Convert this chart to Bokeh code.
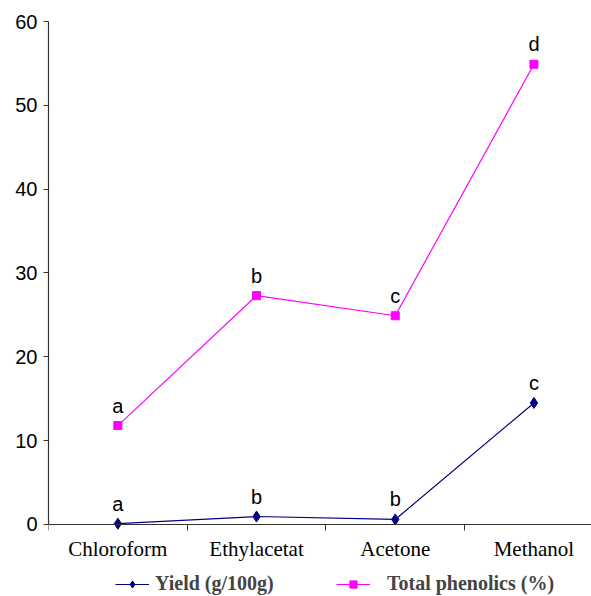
from bokeh.plotting import figure
from bokeh.models import Range1d, FixedTicker, Legend, LegendItem, ColumnDataSource, LabelSet
from bokeh.core.properties import value
from bokeh.embed import file_html
from bokeh.resources import INLINE

solvents = ["Chloroform", "Ethylacetat", "Acetone", "Methanol"]
yield_vals = [0.1, 0.95, 0.6, 14.5]
phenolic_vals = [11.8, 27.3, 24.9, 54.9]
yield_letters = ["a", "b", "b", "c"]
phenolic_letters = ["a", "b", "c", "d"]
y_ticks = [0, 10, 20, 30, 40, 50, 60]

idx = list(range(len(solvents)))
boundaries = [i - 0.5 for i in range(len(solvents) + 1)]

# frame spans down to the bottom of the figure; the x axis is pinned at y = 0
p = figure(width=591, height=596, output_backend="svg", toolbar_location=None,
           x_range=Range1d(-0.5, 3.415), y_range=Range1d(-8.59, 60),
           min_border_left=48, min_border_right=0, min_border_top=21, min_border_bottom=0)
p.outline_line_color = None
p.background_fill_color = "white"

src_y = ColumnDataSource(dict(x=idx, y=yield_vals, t=yield_letters))
src_p = ColumnDataSource(dict(x=idx, y=phenolic_vals, t=phenolic_letters))

l1 = p.line("x", "y", source=src_y, line_color="#000080", line_width=1.2)
m1 = p.scatter("x", "y", source=src_y, marker="diamond", size=11, fill_color="#000080", line_color="#000080")
l2 = p.line("x", "y", source=src_p, line_color="#FF00FF", line_width=1.2)
m2 = p.scatter("x", "y", source=src_p, marker="square", size=8, fill_color="#FF00FF", line_color="#FF00FF")

for src in (src_y, src_p):
    p.add_layout(LabelSet(x="x", y="y", text="t", source=src, text_align="center",
                          text_baseline="alphabetic", y_offset=13,
                          text_font=value("Liberation Sans"), text_font_size=value("20px"),
                          text_color="black"))

# x axis
p.xaxis.fixed_location = 0
p.xaxis.ticker = FixedTicker(ticks=idx, minor_ticks=boundaries)
p.xaxis.major_label_overrides = {i: s for i, s in zip(idx, solvents)}
p.xaxis.major_tick_out = 0
p.xaxis.major_tick_in = 0
p.xaxis.minor_tick_out = 6
p.xaxis.minor_tick_in = 0
p.xaxis.minor_tick_line_color = "#333333"
p.xaxis.major_label_standoff = 7
p.xaxis.major_label_text_font = "Liberation Serif"
p.xaxis.major_label_text_font_size = "21px"
p.xaxis.major_label_text_color = "black"
p.xaxis.axis_line_color = "#333333"
p.xaxis.axis_line_width = 1.2

# y axis
p.yaxis.bounds = (0, 60)
p.yaxis.ticker = FixedTicker(ticks=y_ticks, minor_ticks=[])
p.yaxis.major_tick_out = 5
p.yaxis.major_tick_in = 0
p.yaxis.major_tick_line_color = "#333333"
p.yaxis.major_label_standoff = 6
p.yaxis.major_label_text_font = "Liberation Sans"
p.yaxis.major_label_text_font_size = "20px"
p.yaxis.major_label_text_color = "black"
p.yaxis.axis_line_color = "#333333"
p.yaxis.axis_line_width = 1.2

p.xgrid.grid_line_color = None
p.ygrid.ticker = FixedTicker(ticks=[60])
p.ygrid.grid_line_color = "#A0A0A0"
p.ygrid.grid_line_width = 1.2

def make_legend(label, renderers, x, standoff):
    lg = Legend(items=[LegendItem(label=label, renderers=renderers)], location=(x, 1),
                orientation="horizontal", border_line_color=None, background_fill_alpha=0,
                padding=0, margin=0, glyph_width=34, glyph_height=18, label_height=18,
                label_standoff=standoff, label_text_font="Liberation Serif",
                label_text_font_style="bold", label_text_font_size="20px")
    p.add_layout(lg, "center")

make_legend("Yield (g/100g)", [l1, m1], 67, 6)
make_legend("Total phenolics (%)", [l2, m2], 288, 17)

open("out.html", "w").write(file_html(p, INLINE))
